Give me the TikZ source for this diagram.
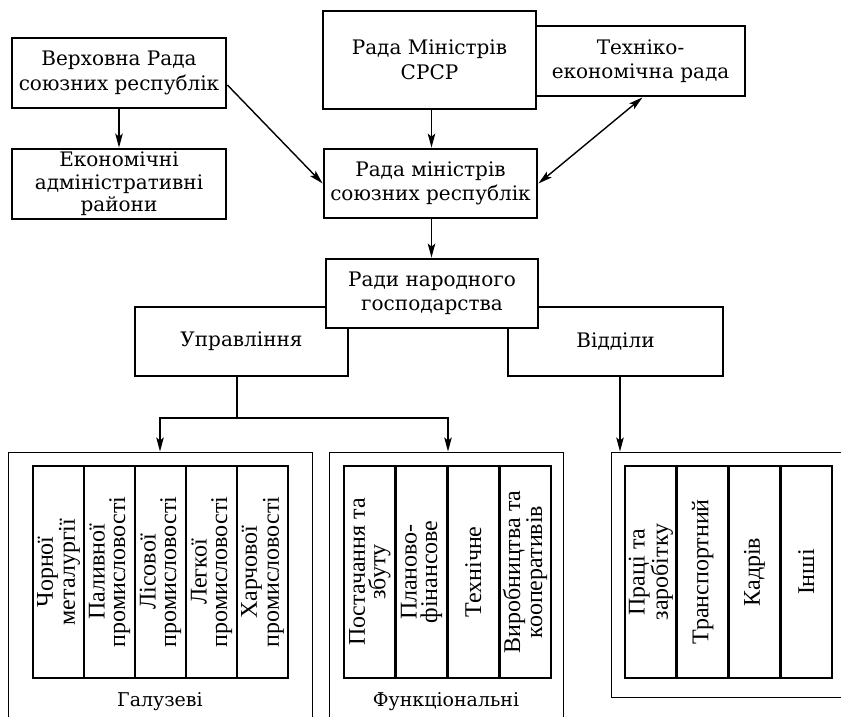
\documentclass[tikz,border=0pt]{standalone}
\usepackage{fontspec}
\setmainfont{DejaVu Serif}
\newfontfamily\colfont{Liberation Serif}
\usetikzlibrary{arrows.meta,calc}
\tikzset{
  mbox/.style={draw, line width=2.8pt, fill=white, align=center, inner sep=0pt,
    font=\fontsize{20}{24.5}\selectfont},
  grp/.style={draw, line width=1pt, inner sep=0pt},
  colbox/.style={draw, line width=2.8pt, rotate=90, inner sep=0pt, align=center,
    minimum width=212pt, font=\colfont\fontsize{24}{20.5}\selectfont},
  conn/.style={line width=1.4pt},
  arr/.style={conn, -{Stealth[length=14pt,width=7.5pt,inset=3pt]}},
  darr/.style={conn, {Stealth[length=14pt,width=7.5pt,inset=3pt]}-{Stealth[length=14pt,width=7.5pt,inset=3pt]}},
  lbl/.style={font=\fontsize{19}{24}\selectfont, inner sep=0pt}
}
\begin{document}
\begin{tikzpicture}[x=1pt,y=-1pt]
\useasboundingbox (0,0) rectangle (841,717);
\clip (0,0) rectangle (841,717);

% top level
\node[mbox, minimum width=214pt, minimum height=70pt] (verkh) at (119,73) {Верховна Рада\\союзних республік};
\node[mbox, minimum width=214pt, minimum height=70pt, font=\fontsize{20}{22.5}\selectfont] (ekon) at (119,184) {Економічні\\адміністративні\\райони};
\node[mbox, minimum width=209pt, minimum height=70pt] (tekh) at (640.5,61) {Техніко-\\економічна рада};
\node[mbox, minimum width=213pt, minimum height=98pt] (srsr) at (429.5,60) {Рада Міністрів\\СРСР};
\node[mbox, minimum width=213pt, minimum height=69pt] (soyuz) at (430.5,183.5) {Рада міністрів\\союзних республік};

% second level
\node[mbox, minimum width=213pt, minimum height=69pt] (uprav) at (241.5,341.5) {Управління};
\node[mbox, minimum width=215pt, minimum height=69pt] (vidd) at (615.5,341.5) {Відділи};
\node[mbox, minimum width=212pt, minimum height=69pt] (rady) at (432,293.5) {Ради народного\\господарства};

% groups
\node[grp, minimum width=304pt, minimum height=290pt] (lgrp) at (160,597) {};
\node[grp, minimum width=234pt, minimum height=290pt] (mgrp) at (446,597) {};
\node[grp, minimum width=250pt, minimum height=245pt] (rgrp) at (736,574.5) {};

% columns: left
\node[colbox, minimum height=51pt] (l1) at (58.5,572) {Чорної\\металургії};
\node[colbox, minimum height=51pt] (l2) at (109.5,572) {Паливної\\промисловості};
\node[colbox, minimum height=51pt] (l3) at (160.5,572) {Лісової\\промисловості};
\node[colbox, minimum height=51pt] (l4) at (211.5,572) {Легкої\\промисловості};
\node[colbox, minimum height=51pt] (l5) at (262.5,572) {Харчової\\промисловості};
% middle
\node[colbox, minimum height=51.75pt] (m1) at (369.875,572) {Постачання та\\збуту};
\node[colbox, minimum height=51.75pt] (m2) at (421.625,572) {Планово-\\фінансове};
\node[colbox, minimum height=51.75pt] (m3) at (473.375,572) {Технічне};
\node[colbox, minimum height=51.75pt] (m4) at (525.125,572) {Виробництва та\\кооперативів};
% right
\node[colbox, minimum height=51.75pt] (r1) at (650.875,572) {Праці та\\заробітку};
\node[colbox, minimum height=51.75pt] (r2) at (702.625,572) {Транспортний};
\node[colbox, minimum height=51.75pt] (r3) at (754.375,572) {Кадрів};
\node[colbox, minimum height=51.75pt] (r4) at (806.125,572) {Інші};

\node[lbl] (galuz) at (160,702) {Галузеві};
\node[lbl] (func) at (446,702) {Функціональні};

% connectors
\draw[arr] (verkh) -- (ekon);
\draw[arr] ([yshift=-12pt]verkh.east) -- (soyuz.west);
\draw[arr] ([xshift=2pt]srsr.south) -- ([xshift=2pt]srsr.south |- soyuz.north);
\draw[darr] ([xshift=2pt]tekh.south) -- (soyuz.east);
\draw[arr] ([xshift=1pt]soyuz.south) -- ([xshift=1pt]soyuz.south |- rady.north);
\coordinate (br) at (237,418);
\draw[conn] (br |- uprav.south) -- (br);
\draw[arr] (br) -| (lgrp.north);
\draw[arr] (br) -| ([xshift=2pt]mgrp.north);
\draw[arr] ([xshift=4.5pt]vidd.south) -- ([xshift=4.5pt]vidd.south |- rgrp.north);
\end{tikzpicture}
\end{document}
